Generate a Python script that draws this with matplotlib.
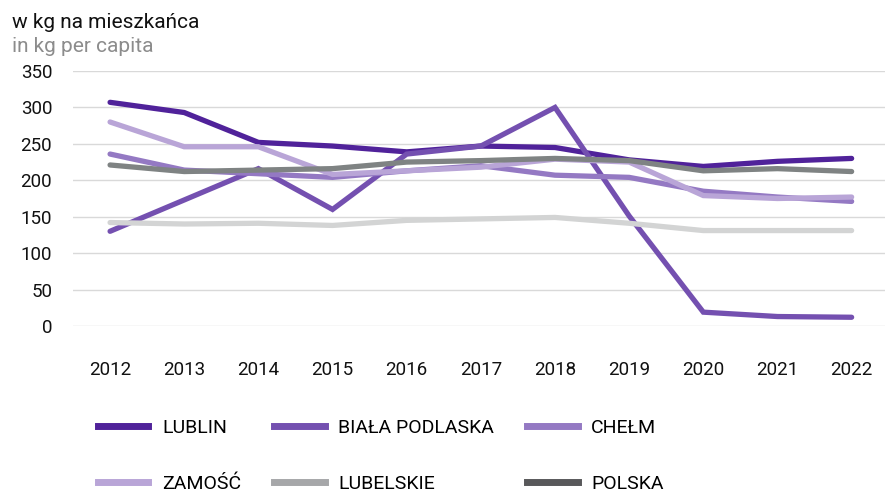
import matplotlib.pyplot as plt
from matplotlib.lines import Line2D

years = [2012, 2013, 2014, 2015, 2016, 2017, 2018, 2019, 2020, 2021, 2022]

lublin = [307, 293, 252, 247, 239, 247, 245, 228, 219, 226, 230]
biala_podlaska = [130, 173, 216, 160, 236, 247, 300, 151, 19, 13, 12]
chelm = [236, 214, 209, 204, 213, 220, 207, 204, 185, 177, 171]
zamosc = [280, 246, 246, 208, 213, 218, 229, 225, 179, 175, 177]
lubelskie = [142, 140, 141, 138, 145, 147, 149, 141, 131, 131, 131]
polska = [221, 212, 214, 216, 225, 227, 230, 227, 213, 216, 212]

series_names = ["LUBLIN", "BIAŁA PODLASKA", "CHEŁM", "ZAMOŚĆ", "LUBELSKIE", "POLSKA"]
y_ticks = [0, 50, 100, 150, 200, 250, 300, 350]

line_colors = ["#50229a", "#7450b0", "#9479c3", "#b9a5d7", "#d3d4d4", "#7f8383"]
legend_colors = ["#50229a", "#7450b0", "#9479c3", "#b9a5d7", "#a6a7a9", "#58585a"]

plt.rcParams['font.family'] = ['Roboto', 'DejaVu Sans']

fig = plt.figure(figsize=(8.85, 4.93), dpi=100)
ax = fig.add_axes([73 / 885, 1 - 326 / 493, 812 / 885, 255 / 493])

all_series = [lublin, biala_podlaska, chelm, zamosc, lubelskie, polska]
for vals, col in zip(all_series, line_colors):
    ax.plot(years, vals, color=col, lw=3.8, solid_capstyle='round',
            solid_joinstyle='miter', clip_on=False, zorder=3)

ax.set_xlim(2011.5, 2022.45)
ax.set_ylim(0, 350)
ax.set_yticks(y_ticks)
ax.set_xticks(years)
ax.grid(axis='y', color='#d9d9d9', lw=1)
ax.set_axisbelow(True)
for s in ax.spines.values():
    s.set_visible(False)
ax.tick_params(length=0, labelsize=13.5, colors='#111111')
ax.tick_params(axis='y', pad=15)
ax.tick_params(axis='x', pad=25)

fig.text(12 / 885, 1 - 22 / 493, "w kg na mieszkańca", fontsize=15,
         color='#111111', va='center')
fig.text(12 / 885, 1 - 47 / 493, "in kg per capita", fontsize=15,
         color='#8c8c8c', va='center')

# matplotlib fills legend columns first, so reorder to get rows like the original
order = [0, 3, 1, 4, 2, 5]
handles = [Line2D([], [], color=legend_colors[i], lw=5) for i in order]
labels = [series_names[i] for i in order]
fig.legend(handles, labels, ncol=3, loc='upper left',
           bbox_to_anchor=(88 / 885, 1 - 409 / 493), frameon=False,
           fontsize=14, handlelength=2.6, handletextpad=0.7,
           columnspacing=1.7, labelspacing=1.95, borderpad=0)

plt.savefig("out.png", dpi=100)
